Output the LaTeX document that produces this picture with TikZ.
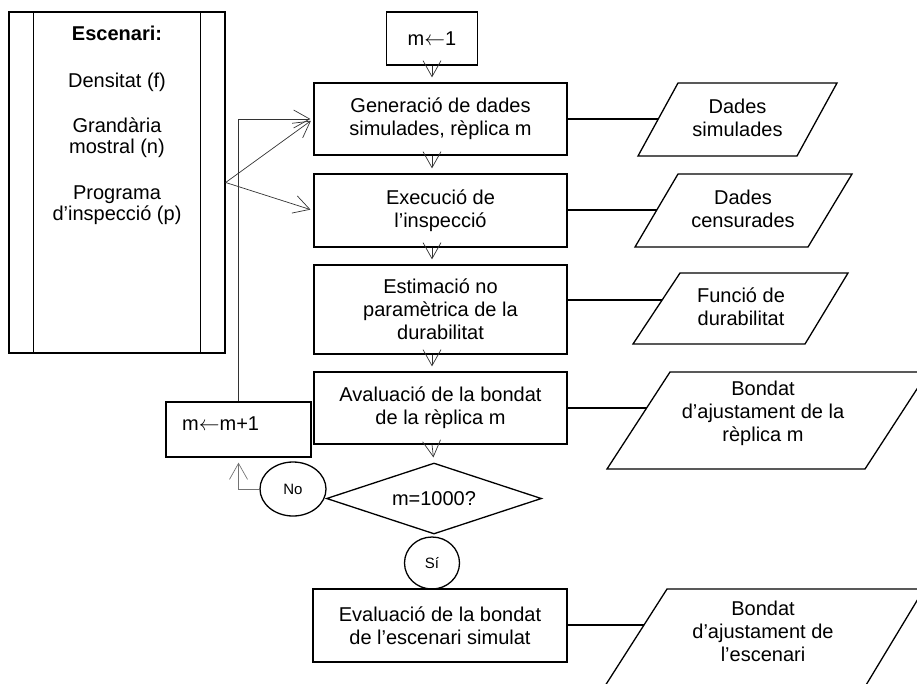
\documentclass[tikz,border=0pt]{standalone}
\usepackage{fontspec}
\setmainfont{Liberation Sans}
\usetikzlibrary{shapes.geometric,arrows.meta}
\begin{document}
\begin{tikzpicture}[x=1pt,y=-1pt,
  box/.style={draw,line width=1.3pt,inner sep=0pt,align=center,font=\fontsize{20}{23}\selectfont},
  txt/.style={inner sep=0pt,align=center,font=\fontsize{20}{23}\selectfont},
  small/.style={draw,line width=1.3pt,inner sep=0pt,ellipse,font=\fontsize{15}{17}\selectfont},
  flow/.style={draw=black!80,line width=0.7pt,-{Straight Barb[length=16pt,width=18pt]},shorten >=5pt},
  side/.style={draw=black!80,line width=0.7pt,-{Straight Barb[length=16pt,width=18pt]},shorten >=3pt},
  link/.style={line width=1.3pt},
  iobox/.style={draw,line width=1.3pt,line join=miter},
  ]
\useasboundingbox (0,0) rectangle (917,683);
\clip (0,0) rectangle (917,683);

% scenario box
\node[box,minimum width=216pt,minimum height=341pt] (scen) at (117,182.5) {};
\draw[line width=1.3pt] ([xshift=25pt]scen.north west) -- ([xshift=25pt]scen.south west);
\draw[line width=1.3pt] ([xshift=-25pt]scen.north east) -- ([xshift=-25pt]scen.south east);
\node[txt,font=\bfseries\fontsize{20}{23}\selectfont,anchor=base] (s1) at (117,40) {Escenari:};
\node[txt,anchor=base] (s2) at (117,87) {Densitat (f)};
\node[txt,anchor=base] (s3) at (117,132) {Grandària};
\node[txt,anchor=base] (s4) at (117,153) {mostral (n)};
\node[txt,anchor=base] (s5) at (117,199) {Programa};
\node[txt,anchor=base] (s6) at (117,220) {d’inspecció (p)};

% main flow
\node[box,minimum width=91pt,minimum height=53pt] (m1) at (432,38.5) {m$\leftarrow$1};
\node[box,minimum width=253pt,minimum height=72pt] (gen) at (440.5,119) {Generació de dades\\simulades, rèplica m};
\node[box,minimum width=253pt,minimum height=73pt] (exe) at (440.5,210.5) {Execució de\\l’inspecció};
\node[box,minimum width=253pt,minimum height=89pt] (est) at (440.5,309.5) {Estimació no\\paramètrica de la\\durabilitat};
\node[box,minimum width=253pt,minimum height=72pt] (ava) at (440.5,408) {Avaluació de la bondat\\de la rèplica m};
\node[box,diamond,aspect=3,minimum width=215pt,minimum height=71pt] (dec) at (434,498.5) {m=1000?};
\node[small,minimum width=66pt,minimum height=54pt] (no) at (293,489) {No};
\node[small,minimum width=55pt,minimum height=52pt] (si) at (432,563) {Sí};
\node[box,minimum width=254pt,minimum height=73pt] (evl) at (440,625.5) {Evaluació de la bondat\\de l’escenari simulat};
\node[box,minimum width=145pt,minimum height=55pt] (mm) at (238.5,429.5) {};
\node[txt,anchor=west] (mmt) at (182,424) {m$\leftarrow$m+1};

% arrows
\draw[flow] (m1.south) -- (m1.south |- gen.north);
\draw[flow] (m1.south |- gen.south) -- (m1.south |- exe.north);
\draw[flow] (m1.south |- exe.south) -- (m1.south |- est.north);
\draw[flow] (m1.south |- est.south) -- (m1.south |- ava.north);
\draw[flow] (m1.south |- ava.south) -- (dec.north);
\draw[flow,draw=black!55] (no.west) -| (mm.south);
\draw[side] (mm.north) |- (gen.west);
\draw[side] (scen.east) -- (gen.west);
\draw[side] (scen.east) -- (exe.west);

% output parallelograms
\draw[iobox] (678,83) -- (837,83) -- (797,156) -- (638,156) -- cycle;
\node[txt] (p1) at (737.5,118) {Dades\\simulades};
\coordinate (p1l) at (658,119);
\draw[link] (gen.east) -- (p1l);

\draw[iobox] (678,174) -- (852,174) -- (808,247) -- (635,247) -- cycle;
\node[txt] (p2) at (743,209) {Dades\\censurades};
\coordinate (p2l) at (656.5,210);
\draw[link] (exe.east |- p2l) -- (p2l);

\draw[iobox] (680,273) -- (848,273) -- (805,344) -- (633,344) -- cycle;
\node[txt] (p3) at (741,307) {Funció de\\durabilitat};
\coordinate (p3l) at (662,300);
\draw[link] (est.east |- p3l) -- (p3l);

\draw[iobox] (670,372) -- (928,372) -- (865,469) -- (607,469) -- cycle;
\node[txt] (p4) at (763,413) {Bondat\\d’ajustament de la\\rèplica m};
\coordinate (p4l) at (646.5,408);
\draw[link] (ava.east) -- (p4l);

\draw[iobox] (667,589) -- (924,589) -- (857,700) -- (596,700) -- cycle;
\node[txt] (p5) at (763,631) {Bondat\\d’ajustament de\\l’escenari};
\coordinate (p5l) at (644,625);
\draw[link] (evl.east |- p5l) -- (p5l);
\end{tikzpicture}
\end{document}
